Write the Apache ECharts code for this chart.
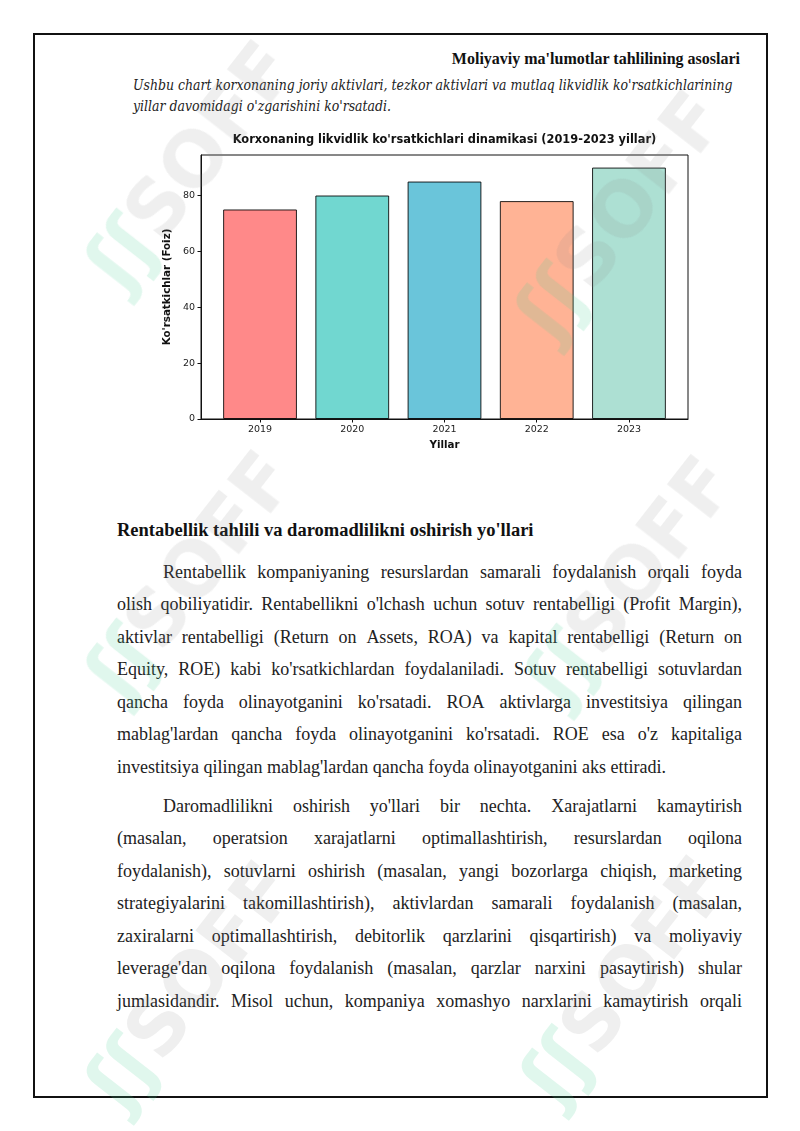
<!DOCTYPE html>
<html>
<head>
<meta charset="utf-8">
<script src="https://cdn.jsdelivr.net/npm/echarts@6/dist/echarts.min.js"></script>
<style>
  html, body { margin:0; padding:0; background:#fff; }
  body { width:800px; height:1131px; position:relative; overflow:hidden; }
  .frame { position:absolute; left:33px; top:33px; width:731px; height:1061px; border:2px solid #111; }
  .hdr { position:absolute; right:60px; top:47px; font-family:"Liberation Serif", serif; font-weight:bold; font-size:16px; line-height:24px; color:#111; white-space:nowrap; }
  .cap { position:absolute; left:133px; font-family:"DejaVu Serif Condensed","DejaVu Serif",serif; font-style:italic; font-stretch:condensed; font-size:13.9px; line-height:21px; color:#222; white-space:nowrap; }
  .h2 { position:absolute; left:117px; top:514px; font-family:"Liberation Serif", serif; font-weight:bold; font-size:18.5px; line-height:32px; color:#111; white-space:nowrap; }
  .ln { position:absolute; height:32px; line-height:32px; font-family:"Liberation Serif", serif; font-size:18px; color:#222; white-space:nowrap; display:flex; align-items:center; }
  .ln.j { justify-content:space-between; }
  .wm { position:absolute; white-space:nowrap; font-family:"DejaVu Sans", sans-serif; font-weight:bold; font-size:76px; line-height:80px; pointer-events:none; transform-origin:50% 50%; }
  .wm .g { color:rgba(70,205,150,0.17); }
  .wm .s { color:rgba(130,130,130,0.13); }
  #chart { position:absolute; left:150px; top:120px; width:560px; height:340px; }
</style>
</head>
<body>
<div class="frame"></div>
<div class="hdr">Moliyaviy ma'lumotlar tahlilining asoslari</div>
<div class="cap" style="top:75px">Ushbu chart korxonaning joriy aktivlari, tezkor aktivlari va mutlaq likvidlik ko'rsatkichlarining</div>
<div class="cap" style="top:96px">yillar davomidagi o'zgarishini ko'rsatadi.</div>
<div id="chart"></div>
<div class="h2">Rentabellik tahlili va daromadlilikni oshirish yo'llari</div>
<div id="text"></div>
<div id="wms"></div>
<script>
// ---- chart data ----
const years = ["2019", "2020", "2021", "2022", "2023"];
const values = [75, 80, 85, 78, 90];
const barColors = ["rgba(255,107,107,0.8)", "rgba(78,205,196,0.8)", "rgba(69,183,209,0.8)", "rgba(255,160,122,0.8)", "rgba(152,216,200,0.8)"];
const yTicks = [0, 20, 40, 60, 80];
const chartTitle = "Korxonaning likvidlik ko'rsatkichlari dinamikasi (2019-2023 yillar)";
const xName = "Yillar";
const yName = "Ko'rsatkichlar (Foiz)";

// ---- document text ----
const para1 = [
  "Rentabellik kompaniyaning resurslardan samarali foydalanish orqali foyda",
  "olish qobiliyatidir. Rentabellikni o'lchash uchun sotuv rentabelligi (Profit Margin),",
  "aktivlar rentabelligi (Return on Assets, ROA) va kapital rentabelligi (Return on",
  "Equity, ROE) kabi ko'rsatkichlardan foydalaniladi. Sotuv rentabelligi sotuvlardan",
  "qancha foyda olinayotganini ko'rsatadi. ROA aktivlarga investitsiya qilingan",
  "mablag'lardan qancha foyda olinayotganini ko'rsatadi. ROE esa o'z kapitaliga",
  "investitsiya qilingan mablag'lardan qancha foyda olinayotganini aks ettiradi."
];
const para2 = [
  "Daromadlilikni oshirish yo'llari bir nechta. Xarajatlarni kamaytirish",
  "(masalan, operatsion xarajatlarni optimallashtirish, resurslardan oqilona",
  "foydalanish), sotuvlarni oshirish (masalan, yangi bozorlarga chiqish, marketing",
  "strategiyalarini takomillashtirish), aktivlardan samarali foydalanish (masalan,",
  "zaxiralarni optimallashtirish, debitorlik qarzlarini qisqartirish) va moliyaviy",
  "leverage'dan oqilona foydalanish (masalan, qarzlar narxini pasaytirish) shular",
  "jumlasidandir. Misol uchun, kompaniya xomashyo narxlarini kamaytirish orqali"
];

function addPara(lines, firstCenter, lastJustified) {
  const host = document.getElementById('text');
  lines.forEach((t, i) => {
    const d = document.createElement('div');
    const indent = i === 0 ? 46 : 0;
    const justify = i < lines.length - 1 || lastJustified;
    d.className = 'ln' + (justify ? ' j' : '');
    d.style.left = (117 + indent) + 'px';
    d.style.width = (625 - indent) + 'px';
    d.style.top = (firstCenter + i * 32.45 - 16) + 'px';
    if (justify) {
      t.split(' ').forEach(w => { const s = document.createElement('span'); s.textContent = w; d.appendChild(s); });
    } else {
      d.textContent = t;
    }
    host.appendChild(d);
  });
}
addPara(para1, 572, false);
addPara(para2, 806, true);

// watermarks
const wmCenters = [[190,165],[620,215],[190,575],[630,580],[190,985],[625,980]];
const wmHost = document.getElementById('wms');
wmCenters.forEach(c => {
  const d = document.createElement('div');
  d.className = 'wm';
  d.innerHTML = '<span class="g">ʃʃ</span><span class="s">SOFF</span>';
  wmHost.appendChild(d);
  const w = d.offsetWidth, h = d.offsetHeight;
  d.style.left = (c[0] - w / 2) + 'px';
  d.style.top = (c[1] - h / 2) + 'px';
  d.style.transform = 'rotate(-52deg)';
});

// ---- chart ----
const gridW = 487, gridH = 264;
const xMin = -0.64, xMax = 4.64;
const barW = 0.8 * gridW / (xMax - xMin);
const chart = echarts.init(document.getElementById('chart'), null, { renderer: 'canvas' });
const font = '"DejaVu Sans", sans-serif';
chart.setOption({
  animation: false,
  title: {
    text: chartTitle,
    left: 51 + gridW / 2 - 5, top: 10, textAlign: 'center',
    textStyle: { fontFamily: font, fontWeight: 'bold', fontSize: 11.4, color: '#111' }
  },
  grid: { left: 51, top: 35, width: gridW, height: gridH, show: true, borderColor: '#111', borderWidth: 1, backgroundColor: 'transparent' },
  xAxis: {
    type: 'value', min: xMin, max: xMax,
    name: xName, nameLocation: 'middle', nameGap: 19,
    nameTextStyle: { fontFamily: font, fontWeight: 'bold', fontSize: 10.3, color: '#111' },
    axisLine: { show: true, onZero: false, lineStyle: { color: '#111', width: 1 } },
    axisTick: { show: true, length: 3.5, lineStyle: { color: '#111' }, customValues: years.map((y, i) => i) },
    axisLabel: { fontFamily: font, fontSize: 9.5, color: '#222', margin: 6, customValues: years.map((y, i) => i), formatter: v => years[Math.round(v)] || '' },
    splitLine: { show: false }
  },
  yAxis: {
    type: 'value', min: 0, max: 94.5,
    name: yName, nameLocation: 'middle', nameGap: 14, nameRotate: 90,
    nameTextStyle: { fontFamily: font, fontWeight: 'bold', fontSize: 10.3, color: '#111' },
    axisLine: { show: true, onZero: false, lineStyle: { color: '#111', width: 1 } },
    axisTick: { show: true, length: 3.5, lineStyle: { color: '#111' }, customValues: yTicks },
    axisLabel: { fontFamily: font, fontSize: 9.5, color: '#222', margin: 6, customValues: yTicks },
    splitLine: { show: false }
  },
  series: [{
    type: 'bar',
    barWidth: barW,
    data: values.map((v, i) => ({ value: [i, v], itemStyle: { color: barColors[i] } })),
    itemStyle: { borderColor: 'rgba(0,0,0,0.85)', borderWidth: 1 }
  }]
});
</script>
</body>
</html>
